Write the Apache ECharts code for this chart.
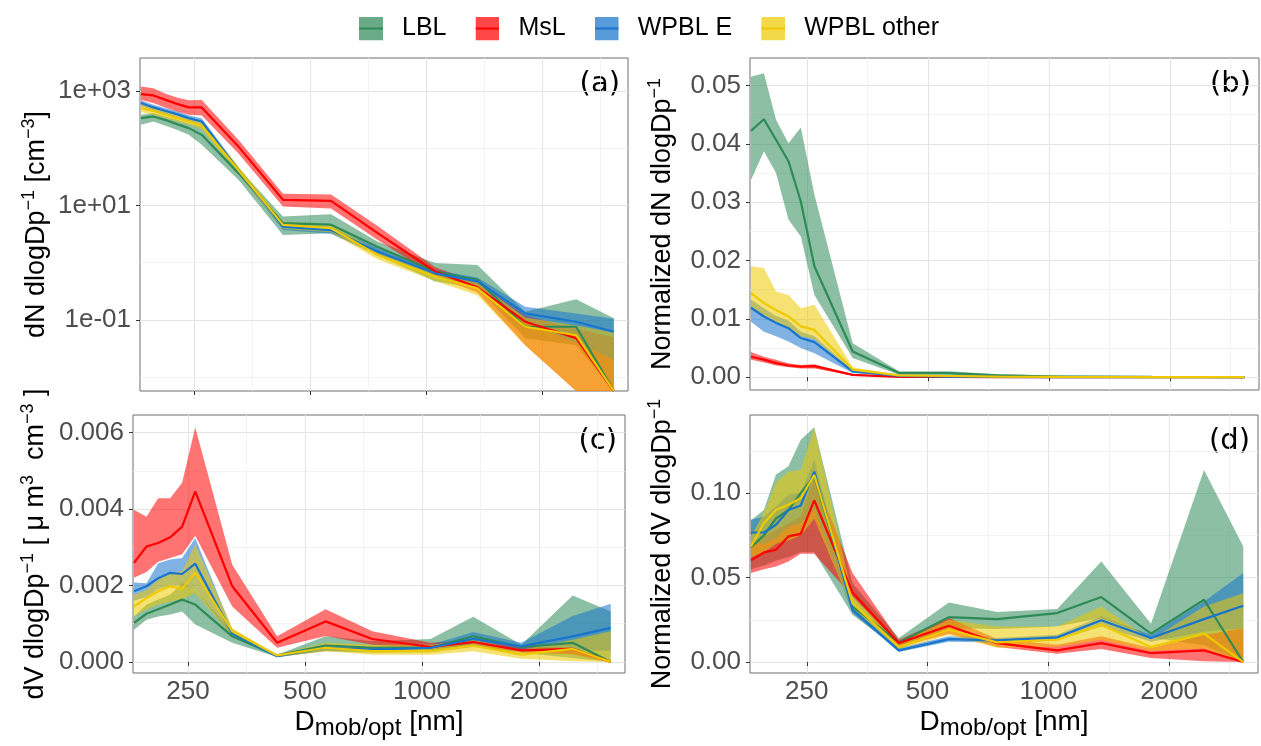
<!DOCTYPE html>
<html>
<head>
<meta charset="utf-8">
<script src="https://cdn.jsdelivr.net/npm/echarts@6/dist/echarts.min.js"></script>
<style>
  html, body { margin: 0; padding: 0; background: #ffffff; }
  #chart { width: 1261px; height: 746px; }
</style>
</head>
<body>
<div id="chart"></div>
<script>
// Size bins (nm)
const diameter = [181.5, 195.5, 209.5, 225, 241.5, 261, 325, 424, 565, 745, 1052, 1355, 1802, 2443, 3060];

const groupNames = ['LBL', 'MsL', 'WPBL E', 'WPBL other'];
const groupColors = ['#2E8B57', '#FF0000', '#1874CD', '#EEC900'];

// (a) dN dlogDp^-1 [cm^-3]: central value, lower and upper bound
const dN_LBL    = [333, 356, 311, 262, 223, 170, 36.5, 4.9, 4.6, 1.9, 0.70, 0.50, 0.076, 0.076, 0];
const dN_LBL_lo = [255, 291, 248, 208, 170, 114, 28, 3.05, 3.25, 1.36, 0.47, 0.36, 0.048, 0.036, 0];
const dN_LBL_hi = [381, 408, 356, 311, 272, 238, 44.6, 6.4, 7.0, 2.33, 0.98, 0.91, 0.139, 0.23, 0.107];
const dN_MsL    = [875, 829, 700, 590, 512, 512, 106, 12.5, 12.0, 3.3, 0.70, 0.37, 0.093, 0.048, 0];
const dN_MsL_lo = [690, 610, 512, 436, 381, 370, 80, 9.5, 8.8, 2.5, 0.58, 0.30, 0.036, 0, 0];
const dN_MsL_hi = [1190, 1110, 900, 760, 680, 690, 140, 16, 15.5, 4.4, 0.83, 0.45, 0.12, 0.07, 0.05];
const dN_WPBLE    = [610, 512, 447, 391, 333, 291, 41, 4.25, 3.7, 1.56, 0.65, 0.47, 0.13, 0.093, 0.062];
const dN_WPBLE_lo = [540, 450, 395, 345, 295, 255, 36, 3.7, 3.2, 1.35, 0.57, 0.40, 0.09, 0.04, 0.02];
const dN_WPBLE_hi = [680, 570, 500, 440, 375, 330, 46, 4.9, 4.2, 1.8, 0.74, 0.55, 0.17, 0.13, 0.105];
const dN_WPBLo    = [497, 447, 381, 333, 291, 248, 41, 4.56, 3.98, 1.36, 0.57, 0.356, 0.076, 0.054, 0];
const dN_WPBLo_lo = [420, 380, 330, 290, 255, 215, 35, 3.9, 3.4, 1.15, 0.48, 0.27, 0.036, 0, 0];
const dN_WPBLo_hi = [600, 530, 450, 390, 340, 290, 48, 5.3, 4.6, 1.6, 0.68, 0.45, 0.11, 0.08, 0.06];

// (b) normalized dN dlogDp^-1
const ndN_LBL    = [0.0422, 0.0442, 0.0407, 0.0370, 0.0301, 0.0190, 0.0044, 0.0007, 0.0007, 0.0003, 0.0001, 0.0001, 0.00005, 0.00003, 0];
const ndN_LBL_lo = [0.0338, 0.0387, 0.0350, 0.0270, 0.0241, 0.0141, 0.0033, 0.0004, 0.0004, 0.0001, 0.00005, 0.00003, 0.00001, 0, 0];
const ndN_LBL_hi = [0.0515, 0.0521, 0.0441, 0.0401, 0.0428, 0.0313, 0.0058, 0.0010, 0.0010, 0.0005, 0.0003, 0.0002, 0.0001, 0.0001, 0.00005];
const ndN_MsL    = [0.0035, 0.0030, 0.0024, 0.0020, 0.0018, 0.0019, 0.0004, 0.00006, 0.00003, 0.00002, 0.00001, 0.00001, 0, 0, 0];
const ndN_MsL_lo = [0.0030, 0.0025, 0.0020, 0.0017, 0.0015, 0.0015, 0.0003, 0.00004, 0.00002, 0.00001, 0, 0, 0, 0, 0];
const ndN_MsL_hi = [0.0043, 0.0035, 0.0030, 0.0024, 0.0021, 0.0022, 0.0005, 0.0001, 0.00005, 0.00003, 0.00002, 0.00001, 0.00001, 0.00001, 0.00001];
const ndN_WPBLE    = [0.0119, 0.0104, 0.0093, 0.0084, 0.0067, 0.0060, 0.0010, 0.0002, 0.0001, 0.00005, 0.00002, 0.00001, 0, 0, 0];
const ndN_WPBLE_lo = [0.0095, 0.0078, 0.0070, 0.0061, 0.0050, 0.0041, 0.0007, 0.0001, 0.00005, 0.00002, 0.00001, 0, 0, 0, 0];
const ndN_WPBLE_hi = [0.0133, 0.0118, 0.0105, 0.0097, 0.0078, 0.0070, 0.0012, 0.0003, 0.00015, 0.00008, 0.00003, 0.00002, 0.00001, 0.00001, 0.00001];
const ndN_WPBLo    = [0.0144, 0.0127, 0.0115, 0.0104, 0.0087, 0.0081, 0.0013, 0.0003, 0.0002, 0.0001, 0.00005, 0.00003, 0.00001, 0.00001, 0];
const ndN_WPBLo_lo = [0.0115, 0.0105, 0.0095, 0.0085, 0.0070, 0.0065, 0.0010, 0.0002, 0.0001, 0.00005, 0.00002, 0.00001, 0, 0, 0];
const ndN_WPBLo_hi = [0.0190, 0.0187, 0.0147, 0.0141, 0.0118, 0.0124, 0.0017, 0.0004, 0.0003, 0.00015, 0.00008, 0.00005, 0.00003, 0.00002, 0.00001];

// (c) dV dlogDp^-1 [um^3 cm^-3]
const dV_LBL    = [0.00102, 0.00126, 0.00138, 0.0015, 0.00163, 0.0015, 0.00067, 0.00017, 0.00043, 0.00037, 0.00037, 0.00067, 0.00039, 0.0005, 0];
const dV_LBL_lo = [0.00084, 0.0011, 0.00119, 0.00124, 0.00132, 0.00098, 0.0005, 0.00013, 0.00028, 0.00024, 0.00025, 0.00039, 0.00024, 0.0001, 0];
const dV_LBL_hi = [0.00119, 0.0015, 0.00163, 0.00176, 0.00206, 0.00189, 0.0008, 0.00019, 0.00067, 0.00054, 0.0006, 0.00118, 0.00045, 0.00174, 0.00132];
const dV_MsL    = [0.00259, 0.00302, 0.00311, 0.00326, 0.00354, 0.00446, 0.00198, 0.0005, 0.00106, 0.0006, 0.00039, 0.00052, 0.0003, 0.00034, 0];
const dV_MsL_lo = [0.0022, 0.00235, 0.00262, 0.00272, 0.00282, 0.0033, 0.00145, 0.00037, 0.00068, 0.00045, 0.00034, 0.00042, 0.00025, 0.0002, 0];
const dV_MsL_hi = [0.00398, 0.0038, 0.00428, 0.00428, 0.00469, 0.00614, 0.00254, 0.00067, 0.00138, 0.0008, 0.0005, 0.00058, 0.00039, 0.00039, 0];
const dV_WPBLE    = [0.00185, 0.00198, 0.00219, 0.00233, 0.0023, 0.00257, 0.00074, 0.00015, 0.00037, 0.00032, 0.00037, 0.0006, 0.00041, 0.00067, 0.00089];
const dV_WPBLE_lo = [0.0016, 0.0017, 0.0019, 0.002, 0.002, 0.0019, 0.00065, 0.00012, 0.0003, 0.00027, 0.0003, 0.00045, 0.00033, 0.0003, 0.0003];
const dV_WPBLE_hi = [0.00208, 0.00206, 0.00258, 0.00268, 0.00272, 0.00324, 0.00085, 0.00019, 0.00045, 0.00039, 0.00045, 0.00078, 0.0005, 0.0012, 0.00152];
const dV_WPBLo    = [0.00145, 0.00167, 0.00185, 0.00198, 0.00191, 0.00234, 0.0008, 0.00017, 0.00037, 0.00028, 0.00028, 0.00043, 0.00019, 0.00034, 0];
const dV_WPBLo_lo = [0.00119, 0.00137, 0.0015, 0.00158, 0.00163, 0.0018, 0.00067, 0.00013, 0.00028, 0.00019, 0.00019, 0.00028, 0.00008, 0.00002, 0];
const dV_WPBLo_hi = [0.00176, 0.00189, 0.00215, 0.00233, 0.00237, 0.00307, 0.00089, 0.00019, 0.0005, 0.00045, 0.00045, 0.00058, 0.00032, 0.00058, 0.0008];

// (d) normalized dV dlogDp^-1
const ndV_LBL    = [0.068, 0.075, 0.085, 0.090, 0.100, 0.110, 0.033, 0.0116, 0.0266, 0.0254, 0.029, 0.0385, 0.0168, 0.0369, 0];
const ndV_LBL_lo = [0.055, 0.057, 0.060, 0.062, 0.065, 0.065, 0.028, 0.0075, 0.020, 0.0195, 0.021, 0.026, 0.0145, 0.010, 0];
const ndV_LBL_hi = [0.084, 0.090, 0.111, 0.116, 0.1316, 0.139, 0.0467, 0.0142, 0.0353, 0.0296, 0.0314, 0.0596, 0.0227, 0.1138, 0.0684];
const ndV_MsL    = [0.0602, 0.0649, 0.0665, 0.0744, 0.0759, 0.0957, 0.0412, 0.0112, 0.0215, 0.0112, 0.0069, 0.0112, 0.0053, 0.0069, 0];
const ndV_MsL_lo = [0.0527, 0.055, 0.0566, 0.0596, 0.0641, 0.0641, 0.0389, 0.0089, 0.0168, 0.0089, 0.0049, 0.0077, 0.0024, 0.0004, 0];
const ndV_MsL_hi = [0.0704, 0.0744, 0.0783, 0.0822, 0.0862, 0.110, 0.0527, 0.0132, 0.026, 0.0136, 0.0103, 0.0152, 0.0083, 0.016, 0.02];
const ndV_WPBLE    = [0.0767, 0.0767, 0.0813, 0.090, 0.0927, 0.1128, 0.031, 0.0069, 0.0136, 0.0128, 0.0146, 0.0247, 0.0142, 0.0254, 0.0333];
const ndV_WPBLE_lo = [0.070, 0.070, 0.073, 0.080, 0.082, 0.090, 0.029, 0.006, 0.012, 0.0115, 0.013, 0.021, 0.012, 0.018, 0.02];
const ndV_WPBLE_hi = [0.0842, 0.0862, 0.0921, 0.099, 0.100, 0.1197, 0.0329, 0.0083, 0.0152, 0.0142, 0.0162, 0.027, 0.0162, 0.0359, 0.0527];
const ndV_WPBLo    = [0.0684, 0.0822, 0.0901, 0.0931, 0.097, 0.1108, 0.0349, 0.0089, 0.0191, 0.0116, 0.0132, 0.0221, 0.0089, 0.0168, 0];
const ndV_WPBLo_lo = [0.062, 0.065, 0.070, 0.072, 0.075, 0.085, 0.031, 0.0075, 0.016, 0.0085, 0.009, 0.013, 0.0065, 0.008, 0];
const ndV_WPBLo_hi = [0.0744, 0.0882, 0.106, 0.1128, 0.1138, 0.1385, 0.0389, 0.0112, 0.025, 0.0211, 0.0211, 0.0329, 0.0132, 0.0329, 0.0408];

// Axis breaks
const xTickValues = [250, 500, 1000, 2000];
const xMinorValues = [353.55, 707.1, 1414.2, 2828.4];
const yTicksA = [0.1, 10, 1000];
const yMinorA = [0.01, 1, 100];
const yTicksB = [0, 0.01, 0.02, 0.03, 0.04, 0.05];
const yMinorB = [0.005, 0.015, 0.025, 0.035, 0.045];
const yTicksC = [0, 0.002, 0.004, 0.006];
const yMinorC = [0.001, 0.003, 0.005];
const yTicksD = [0, 0.05, 0.10];
const yMinorD = [0.025, 0.075, 0.125];

const FONT = '"Liberation Sans", Arial, Helvetica, sans-serif';
const TAG_FONT = '"DejaVu Sans", Verdana, sans-serif';
const X_MIN = 180.5, X_MAX = 3330;

const titleRich = {
  n: { fontSize: 27, fontFamily: FONT, color: '#000', lineHeight: 34 },
  s: { fontSize: 18, fontFamily: FONT, color: '#000', verticalAlign: 'top' },
  m: { fontSize: 28, fontFamily: FONT, color: '#000', lineHeight: 36 },
  b: { fontSize: 24, fontFamily: FONT, color: '#000', verticalAlign: 'bottom' }
};

const expLabel = v => {
  const e = Math.round(Math.log10(v));
  return '1e' + (e < 0 ? '-' : '+') + String(Math.abs(e)).padStart(2, '0');
};

const panels = [
  {
    box: { left: 140, top: 58, width: 488, height: 333 },
    yType: 'log', yMin: 0.00574, yMax: 3733, yTicks: yTicksA, yMinor: yMinorA,
    yFormat: expLabel, yGap: 86, xLabels: false,
    yName: '{n|dN dlogDp}{s|−1}{n| [cm}{s|−3}{n|]}',
    tag: '(a)',
    groups: [[dN_LBL, dN_LBL_lo, dN_LBL_hi], [dN_MsL, dN_MsL_lo, dN_MsL_hi],
             [dN_WPBLE, dN_WPBLE_lo, dN_WPBLE_hi], [dN_WPBLo, dN_WPBLo_lo, dN_WPBLo_hi]]
  },
  {
    box: { left: 750, top: 58, width: 509, height: 332 },
    yType: 'value', yMin: -0.0022, yMax: 0.0547, yTicks: yTicksB, yMinor: yMinorB,
    yFormat: v => v.toFixed(2), yGap: 70, xLabels: false,
    yName: '{n|Normalized dN dlogDp}{s|−1}',
    tag: '(b)',
    groups: [[ndN_LBL, ndN_LBL_lo, ndN_LBL_hi], [ndN_MsL, ndN_MsL_lo, ndN_MsL_hi],
             [ndN_WPBLE, ndN_WPBLE_lo, ndN_WPBLE_hi], [ndN_WPBLo, ndN_WPBLo_lo, ndN_WPBLo_hi]]
  },
  {
    box: { left: 133, top: 415, width: 492, height: 258 },
    yType: 'value', yMin: -0.00029, yMax: 0.00646, yTicks: yTicksC, yMinor: yMinorC,
    yFormat: v => v.toFixed(3), yGap: 80, xLabels: true,
    yName: '{n|dV dlogDp}{s|−1}{n| [ μ m}{s|3}{n|  cm}{s|−3}{n| ]}',
    tag: '(c)',
    groups: [[dV_LBL, dV_LBL_lo, dV_LBL_hi], [dV_MsL, dV_MsL_lo, dV_MsL_hi],
             [dV_WPBLE, dV_WPBLE_lo, dV_WPBLE_hi], [dV_WPBLo, dV_WPBLo_lo, dV_WPBLo_hi]]
  },
  {
    box: { left: 750, top: 415, width: 508, height: 258 },
    yType: 'value', yMin: -0.0065, yMax: 0.1463, yTicks: yTicksD, yMinor: yMinorD,
    yFormat: v => v.toFixed(2), yGap: 70, xLabels: true,
    yName: '{n|Normalized dV dlogDp}{s|−1}',
    tag: '(d)',
    groups: [[ndV_LBL, ndV_LBL_lo, ndV_LBL_hi], [ndV_MsL, ndV_MsL_lo, ndV_MsL_hi],
             [ndV_WPBLE, ndV_WPBLE_lo, ndV_WPBLE_hi], [ndV_WPBLo, ndV_WPBLo_lo, ndV_WPBLo_hi]]
  }
];

const majorGrid = { show: true, lineStyle: { color: '#e4e4e4', width: 1.1 } };
const minorGrid = { show: true, lineStyle: { color: '#f0f0f0', width: 0.8 } };
const tickStyle = { show: true, length: 4, lineStyle: { color: '#333333', width: 1 } };

const grids = [], xAxes = [], yAxes = [], series = [], graphics = [];

panels.forEach((p, k) => {
  grids.push(Object.assign({ show: true, borderColor: '#6e6e6e', borderWidth: 1, backgroundColor: '#fff', containLabel: false }, p.box));

  // Log values of zero sit on the panel's lower edge
  const fix = p.yType === 'log' ? (v => (v > 0 ? v : p.yMin)) : (v => v);

  const xCommon = { type: 'log', logBase: 10, gridIndex: k, min: X_MIN, max: X_MAX, axisLine: { show: false } };
  xAxes.push(Object.assign({}, xCommon, {
    axisTick: Object.assign({}, tickStyle, { customValues: xTickValues }),
    axisLabel: {
      show: p.xLabels, customValues: xTickValues, formatter: v => String(Math.round(v)),
      fontSize: 26, fontFamily: FONT, color: '#4d4d4d', margin: 6
    },
    splitLine: majorGrid,
    name: p.xLabels ? '{m|D}{b|mob/opt}{m| [nm]}' : '',
    nameLocation: 'middle', nameGap: 31,
    nameTextStyle: { rich: titleRich }
  }));
  xAxes.push(Object.assign({}, xCommon, {
    axisTick: { show: false, customValues: xMinorValues },
    axisLabel: { show: false },
    splitLine: minorGrid
  }));

  const yCommon = { type: p.yType, gridIndex: k, min: p.yMin, max: p.yMax, axisLine: { show: false } };
  if (p.yType === 'log') yCommon.logBase = 10;
  yAxes.push(Object.assign({}, yCommon, {
    axisTick: Object.assign({}, tickStyle, { customValues: p.yTicks }),
    axisLabel: {
      customValues: p.yTicks, formatter: p.yFormat,
      fontSize: 26, fontFamily: FONT, color: '#4d4d4d', margin: 9
    },
    splitLine: majorGrid,
    name: p.yName, nameLocation: 'middle', nameRotate: 90, nameGap: p.yGap,
    nameTextStyle: { rich: titleRich }
  }));
  yAxes.push(Object.assign({}, yCommon, {
    axisTick: { show: false, customValues: p.yMinor },
    axisLabel: { show: false },
    splitLine: minorGrid
  }));

  // Ribbons first (in group order), lines on top
  p.groups.forEach((g, gi) => {
    const lo = g[1], hi = g[2];
    series.push({
      type: 'custom', name: groupNames[gi],
      xAxisIndex: 2 * k, yAxisIndex: 2 * k,
      z: 1, silent: true, clip: true, animation: false,
      data: diameter.map((d, i) => [d, fix(lo[i]), fix(hi[i])]),
      encode: { x: 0, y: [1, 2] },
      renderItem(params, api) {
        if (params.dataIndex !== 0) return null;
        const upper = [], lower = [];
        for (let i = 0; i < diameter.length; i++) {
          upper.push(api.coord([diameter[i], fix(hi[i])]));
          lower.push(api.coord([diameter[i], fix(lo[i])]));
        }
        return {
          type: 'polygon',
          shape: { points: upper.concat(lower.reverse()) },
          style: { fill: groupColors[gi], opacity: 0.55 }
        };
      }
    });
  });
  p.groups.forEach((g, gi) => {
    const mid = g[0];
    series.push({
      type: 'line', name: groupNames[gi],
      xAxisIndex: 2 * k, yAxisIndex: 2 * k,
      z: 3, silent: true, clip: true, animation: false,
      symbol: 'none', showSymbol: false,
      data: diameter.map((d, i) => [d, fix(mid[i])]),
      lineStyle: { color: groupColors[gi], width: 2.2 },
      itemStyle: { color: groupColors[gi] }
    });
  });

  graphics.push({
    type: 'text',
    right: 1261 - (p.box.left + p.box.width) + 8,
    top: p.box.top + 12,
    style: { text: p.tag, font: '29px ' + TAG_FONT, fill: '#000' }
  });
});

// Legend keys: translucent fill with the line colour across the middle
const legendIcon = c => 'image://data:image/svg+xml;charset=utf-8,' + encodeURIComponent(
  '<svg xmlns="http://www.w3.org/2000/svg" width="24" height="24">' +
  '<rect width="24" height="24" fill="' + c + '" fill-opacity="0.72"/>' +
  '<rect y="11" width="24" height="2" fill="' + c + '"/></svg>');

const chart = echarts.init(document.getElementById('chart'), null, { renderer: 'canvas' });
chart.setOption({
  animation: false,
  backgroundColor: '#ffffff',
  legend: {
    left: 354, top: 11,
    itemWidth: 24, itemHeight: 24, itemGap: 29,
    textStyle: { fontSize: 25, fontFamily: FONT, color: '#000', padding: [0, 0, 0, 14] },
    data: groupNames.map((n, i) => ({ name: n, icon: legendIcon(groupColors[i]) })),
    selectedMode: false
  },
  grid: grids,
  xAxis: xAxes,
  yAxis: yAxes,
  series: series,
  graphic: graphics
});
</script>
</body>
</html>
